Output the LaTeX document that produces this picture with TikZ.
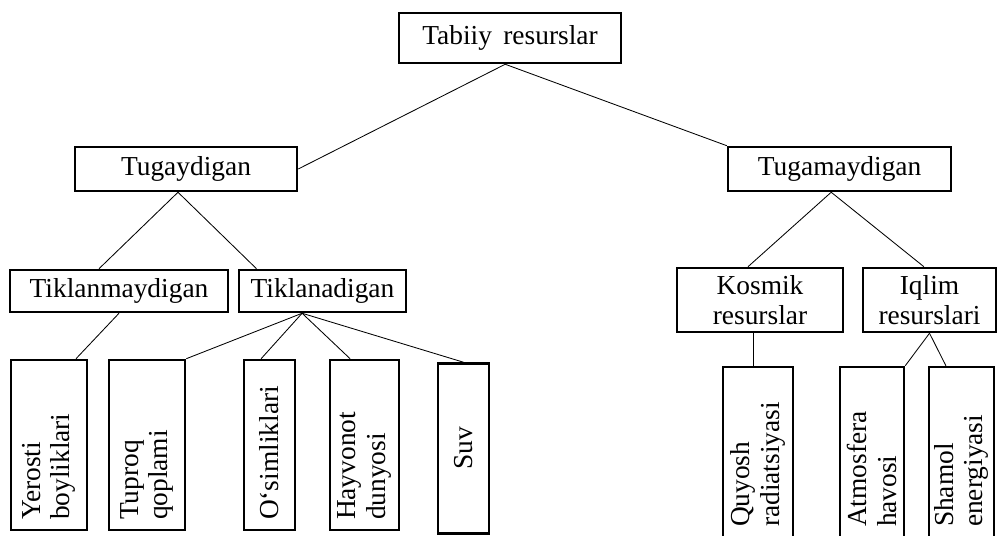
\documentclass[tikz,border=0pt]{standalone}
\usepackage{fontspec}
\setmainfont{Liberation Serif}
\usepackage{tikz}
\usetikzlibrary{calc, positioning}

\tikzset{
    box/.style={draw, line width=1.8pt, font=\fontsize{19.5}{21}\selectfont, align=center, inner sep=0pt},
    leaf/.style={box, rotate=90, align=left, inner xsep=0.25cm, text width=3.75cm},
    farleaf/.style={leaf, inner xsep=0.45cm, text width=3.55cm},
    link/.style={line width=0.6pt}
}

\begin{document}
\begin{tikzpicture}
    \useasboundingbox (0,0) rectangle (25.05,13.4);

    % 1. Yuqori qatorlar
    \node[box, minimum width=5.55cm, minimum height=1.25cm] (root) at (12.75,12.45) {Tabiiy\, resurslar};
    \node[box, minimum width=5.55cm, minimum height=1.1cm] (tug) at (4.65,9.175) {Tugaydigan};
    \node[box, minimum width=5.575cm, minimum height=1.1cm] (tugm) at (20.99,9.175) {Tugamaydigan};

    \node[box, minimum width=5.45cm, minimum height=1.05cm] (tikm) at (2.975,6.125) {Tiklanmaydigan};
    \node[box, minimum width=4.175cm, minimum height=1.05cm] (tika) at (8.0625,6.125) {Tiklanadigan};
    \node[box, minimum width=4.15cm, minimum height=1.6cm] (kos) at (19.0,5.9) {Kosmik\\resurslar};
    \node[box, minimum width=3.325cm, minimum height=1.6cm] (iql) at (23.2375,5.9) {Iqlim\\resurslari};

    % 2. Pastki (tik) qutilar
    \node[leaf, minimum height=1.9cm] (yer) at (1.225,2.275) {Yerosti\\boyliklari};
    \node[leaf, minimum height=1.9cm] (tup) at (3.675,2.275) {Tuproq\\qoplami};
    \node[leaf, minimum height=1.275cm] (osim) at (6.7375,2.275) {O‘simliklari};
    \node[leaf, minimum height=1.725cm] (hay) at (9.1125,2.275) {Hayvonot\\dunyosi};
    \node[leaf, align=center, minimum height=1.275cm] (suv) at (11.5875,2.1875) {Suv};

    \node[farleaf, minimum height=1.75cm] (quy) at (18.95,2.0) {Quyosh\\radiatsiyasi};
    \node[farleaf, minimum height=1.6cm] (atm) at (21.8,2.0) {Atmosfera\\havosi};
    \node[farleaf, minimum height=1.625cm] (sham) at (24.0375,2.0) {Shamol\\energiyasi};

    % 3. Bog'lovchi chiziqlar
    \draw[link] ([xshift=-0.12cm]root.south) -- (tug.east);
    \draw[link] ([xshift=-0.12cm]root.south) -- (tugm.north west);

    \draw[link] ([xshift=-0.5cm]tikm.north) -- ([xshift=-0.2cm]tug.south) -- ([xshift=-1.65cm]tika.north);
    \draw[link] ([xshift=-0.3cm]kos.north) -- ([xshift=-0.21cm]tugm.south) -- ([xshift=-0.14cm]iql.north);

    \draw[link] (tikm.south) -- ([xshift=0.675cm]yer.east);
    \draw[link] ([xshift=-0.51cm]tika.south) -- (tup.south east);
    \draw[link] ([xshift=-0.51cm]tika.south) -- ([xshift=-0.21cm]osim.east);
    \draw[link] ([xshift=-0.51cm]tika.south) -- ([xshift=-0.36cm]hay.east);
    \draw[link] ([xshift=-0.51cm]tika.south) -- (suv.east);

    \draw[link] ([xshift=-0.175cm]kos.south) -- ([xshift=-0.125cm]quy.east);
    \draw[link] (iql.south) -- (atm.south east);
    \draw[link] (iql.south) -- ([xshift=-0.39cm]sham.east);
\end{tikzpicture}
\end{document}
